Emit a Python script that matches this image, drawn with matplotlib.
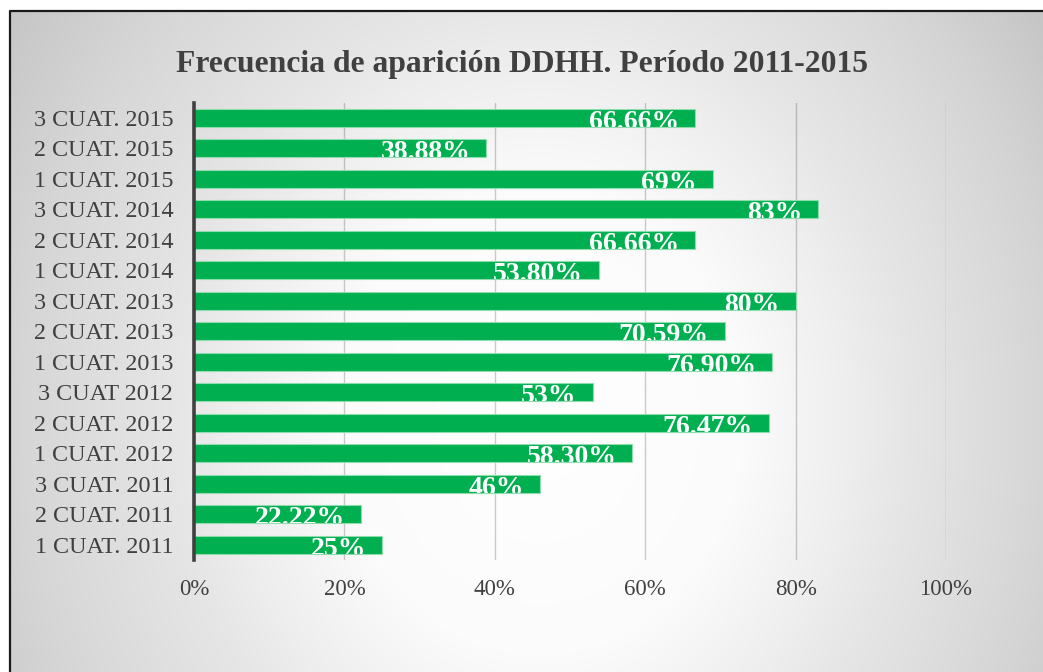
import numpy as np
import matplotlib
matplotlib.use("Agg")
import matplotlib.pyplot as plt
from matplotlib.lines import Line2D

categories = ["1 CUAT. 2011", "2 CUAT. 2011", "3 CUAT. 2011", "1 CUAT. 2012",
              "2 CUAT. 2012", "3 CUAT 2012", "1 CUAT. 2013", "2 CUAT. 2013",
              "3 CUAT. 2013", "1 CUAT. 2014", "2 CUAT. 2014", "3 CUAT. 2014",
              "1 CUAT. 2015", "2 CUAT. 2015", "3 CUAT. 2015"]
values = [25, 22.22, 46, 58.30, 76.47, 53, 76.90, 70.59, 80, 53.80, 66.66, 83,
          69, 38.88, 66.66]
labels = ["25%", "22.22%", "46%", "58.30%", "76.47%", "53%", "76.90%", "70.59%",
          "80%", "53.80%", "66.66%", "83%", "69%", "38.88%", "66.66%"]
xticks = [0, 20, 40, 60, 80, 100]
xticklabels = ["0%", "20%", "40%", "60%", "80%", "100%"]
title = "Frecuencia de aparición DDHH. Período 2011-2015"

W, H = 1043, 672
plt.rcParams['font.family'] = ['Liberation Serif', 'DejaVu Serif']
fig = plt.figure(figsize=(W / 100, H / 100), dpi=100)
fig.patch.set_facecolor('white')

# background gradient
bg = fig.add_axes([10 / W, 0, 1 - 10 / W, 1 - 12 / H], zorder=-10)
bg.set_axis_off()
yy, xx = np.mgrid[12:672, 10:1043]
cx, cy = 540, 420
d = np.sqrt(((xx - cx) / 450.0) ** 2 + ((yy - cy) / 520.0) ** 2)
red = np.interp(d, [0, 0.45, 0.7, 0.8, 1.15, 1.4, 2.0],
                [0, 0.015, 0.07, 0.095, 0.16, 0.22, 0.3])
red = red + 0.025 * np.clip((xx - 540) / 500.0, 0, 1) * np.clip(d - 0.8, 0, 1)
v = 1 - red
img = np.dstack([v, v, v])
bg.imshow(img, aspect='auto', extent=[0, 1, 0, 1], origin='upper')
bg.set_xlim(0, 1); bg.set_ylim(0, 1)

# border (left and top)
fig.add_artist(Line2D([9.5 / W, 9.5 / W, 1], [0, 1 - 11 / H, 1 - 11 / H],
                      transform=fig.transFigure, color='#1a1a1a', lw=1.6))

ax = fig.add_axes([194 / W, 1 - 560 / H, (946 - 194) / W, (560 - 102.5) / H])
ax.patch.set_alpha(0)
y = np.arange(len(categories))
bars = ax.barh(y, values, height=0.58, color='#00B050', edgecolor='#8fdcae',
               linewidth=0.8, zorder=3)
ax.set_xlim(0, 100)
ax.set_ylim(-0.5, len(categories) - 0.5)
ax.set_xticks(xticks)
ax.set_xticklabels(xticklabels)
ax.set_yticks(y)
ax.set_yticklabels(categories)
ax.tick_params(axis='both', length=0, colors='#404040')
ax.tick_params(axis='x', pad=14, labelsize=16.5)
ax.tick_params(axis='y', pad=15, labelsize=17.4)
for s in ['top', 'right', 'bottom']:
    ax.spines[s].set_visible(False)
ax.spines['left'].set_color('#404040')
ax.spines['left'].set_linewidth(2.6)
ax.spines['left'].set_zorder(5)
for xv in xticks[1:]:
    ax.axvline(xv, color='black', alpha=0.2, lw=1.0, zorder=1)

for bar, val, lab, yi in zip(bars, values, labels, y):
    t = ax.annotate(lab, xy=(val, yi - 0.36), xytext=(-11.5, 0),
                    textcoords='offset points', ha='right', va='baseline',
                    color='white', fontsize=20, fontweight='bold', zorder=4)
    t.set_clip_path(bar)

fig.text(522 / W, 1 - 72 / H, title, ha='center', va='baseline',
         fontsize=22.8, fontweight='bold', color='#404040')

fig.savefig('out.png', dpi=100)
